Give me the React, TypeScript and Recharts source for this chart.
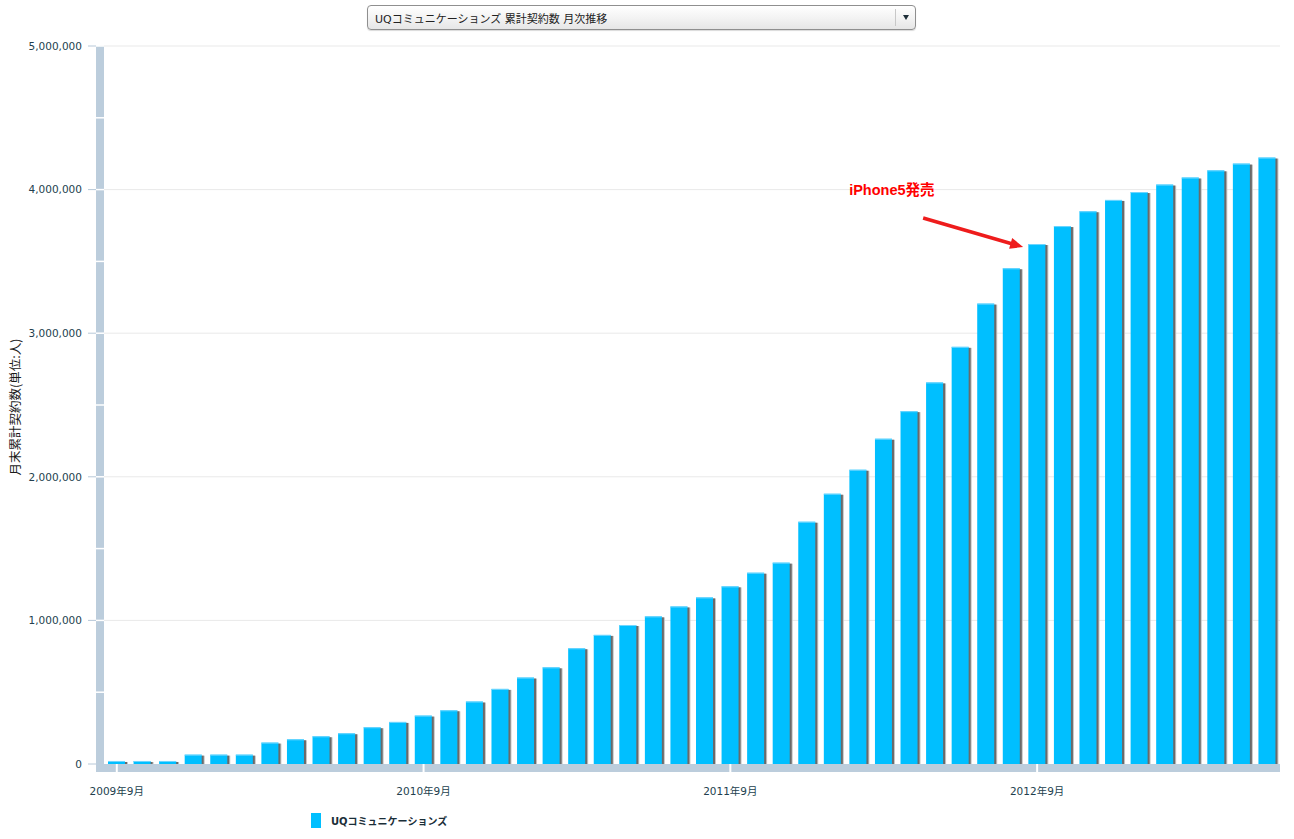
import React from 'react';
import { BarChart, Bar, XAxis, YAxis, CartesianGrid, ReferenceDot } from 'recharts';

const TITLE = 'UQコミュニケーションズ 累計契約数 月次推移';
const SERIES_NAME = 'UQコミュニケーションズ';
const Y_TITLE = '月末累計契約数(単位:人)';
const ANNOTATION_TEXT = 'iPhone5発売';
const ANNOTATION_MONTH = '2012年9月';

const months = [
  '2009年9月', '2009年10月', '2009年11月', '2009年12月', '2010年1月', '2010年2月',
  '2010年3月', '2010年4月', '2010年5月', '2010年6月', '2010年7月', '2010年8月',
  '2010年9月', '2010年10月', '2010年11月', '2010年12月', '2011年1月', '2011年2月',
  '2011年3月', '2011年4月', '2011年5月', '2011年6月', '2011年7月', '2011年8月',
  '2011年9月', '2011年10月', '2011年11月', '2011年12月', '2012年1月', '2012年2月',
  '2012年3月', '2012年4月', '2012年5月', '2012年6月', '2012年7月', '2012年8月',
  '2012年9月', '2012年10月', '2012年11月', '2012年12月', '2013年1月', '2013年2月',
  '2013年3月', '2013年4月', '2013年5月', '2013年6月',
];

const subscribers = [
  21000, 21000, 21000, 65000, 65000, 65000,
  149000, 172000, 193000, 214000, 256000, 293000,
  337000, 374000, 435000, 523000, 602000, 673000,
  806000, 899000, 968000, 1028000, 1097000, 1160000,
  1237000, 1332000, 1402000, 1687000, 1882000, 2049000,
  2265000, 2457000, 2657000, 2905000, 3206000, 3452000,
  3621000, 3746000, 3849000, 3928000, 3983000, 4035000,
  4084000, 4134000, 4181000, 4223000,
];

const yTicks = [0, 500000, 1000000, 1500000, 2000000, 2500000, 3000000, 3500000, 4000000, 4500000, 5000000];
const gridValues = [1000000, 2000000, 3000000, 4000000, 5000000];

const data = months.map((m, i) => ({ month: m, value: subscribers[i] }));

const BAR_COLOR = '#00bfff';
const BAND_COLOR = '#bccddc';
const TEXT_COLOR = '#233f4e';
const FONT = '"DejaVu Sans", "Noto Sans CJK JP", sans-serif';

const Y_TICK_SIZE = 12;
const Y_TICK_MARGIN = 6;
const X_TICK_SIZE = 8;
const X_TICK_MARGIN = 15;

const YTick = (props: any) => {
  const { x, y, payload } = props;
  const axisX = x + Y_TICK_SIZE + Y_TICK_MARGIN;
  const v = payload.value as number;
  const major = v % 1000000 === 0;
  return (
    <g>
      {v === 0 && (
        <rect x={axisX - 4} y={y} width={8} height={8} fill={BAND_COLOR} />
      )}
      {v !== 0 && (
        <line x1={axisX - 4} x2={axisX + 4} y1={y} y2={y} stroke="#ffffff" strokeWidth={1.5} />
      )}
      {major && (
        <>
          <line x1={axisX - 12} x2={axisX - 4} y1={y} y2={y} stroke="#b7c8d8" strokeWidth={1} />
          <text x={x} y={y} dy="0.36em" textAnchor="end" fontSize={10.5} fontFamily={FONT} fill={TEXT_COLOR}>
            {v.toLocaleString('en-US')}
          </text>
        </>
      )}
    </g>
  );
};

const XTick = (props: any) => {
  const { x, y, payload } = props;
  const axisY = y - X_TICK_SIZE - X_TICK_MARGIN;
  return (
    <g>
      <line x1={x} x2={x} y1={axisY - 4} y2={axisY + 4} stroke="#ffffff" strokeWidth={2} />
      <text x={x} y={y} dy="0.36em" textAnchor="middle" fontSize={10.5} fontFamily={FONT} fill={TEXT_COLOR}>
        {payload.value}
      </text>
    </g>
  );
};

const ShadowBar = (props: any) => {
  const { x, y, width, height, fill } = props;
  if (!height || height <= 0) return null;
  return (
    <g>
      <rect x={x + 2} y={y + 1} width={width + 1} height={height - 1} fill="#c4c4c4" />
      <rect x={x + 1} y={y + 1} width={width + 1} height={height - 1} fill="#6a6a6a" />
      <rect x={x} y={y} width={width} height={height} fill={fill} />
      <rect x={x} y={y} width={width} height={1} fill="#6fd6ff" />
    </g>
  );
};

const Annotation = (props: any) => {
  const { cx, cy } = props;
  if (cx == null || cy == null) return null;
  const tipX = cx - 14;
  const tipY = cy + 3;
  const sx = cx - 114;
  const sy = cy - 26;
  const dx = tipX - sx;
  const dy = tipY - sy;
  const len = Math.sqrt(dx * dx + dy * dy);
  const ux = dx / len;
  const uy = dy / len;
  const bx = tipX - ux * 13;
  const by = tipY - uy * 13;
  const nx = -uy;
  const ny = ux;
  const hw = 5.5;
  return (
    <g>
      <line x1={sx} y1={sy} x2={bx + ux * 2} y2={by + uy * 2} stroke="#ee1c1c" strokeWidth={3.5} />
      <polygon
        points={`${tipX},${tipY} ${bx + nx * hw},${by + ny * hw} ${bx - nx * hw},${by - ny * hw}`}
        fill="#ee1c1c"
      />
      <text
        x={cx - 188}
        y={cy - 49}
        fontSize={14.5}
        fontWeight="bold"
        fontFamily='"Liberation Sans", "Noto Sans CJK JP", sans-serif'
        fill="#ff0000"
      >
        {ANNOTATION_TEXT}
      </text>
    </g>
  );
};

const YTitle = (props: any) => {
  const vb = props.viewBox || {};
  const x = (vb.x ?? 0) + 14;
  const y = (vb.y ?? 0) + (vb.height ?? 0) / 2;
  return (
    <text
      x={x}
      y={y}
      transform={`rotate(-90, ${x}, ${y})`}
      textAnchor="middle"
      dominantBaseline="central"
      fontSize={12.5}
      fontFamily='"Noto Sans CJK JP", sans-serif'
      fill="#1a1a1a"
    >
      {Y_TITLE}
    </text>
  );
};

export default function App() {
  return (
    <div
      style={{
        position: 'absolute',
        left: 0,
        top: 0,
        width: 1294,
        height: 839,
        background: '#ffffff',
        overflow: 'hidden',
      }}
    >
      <div
        style={{
          position: 'absolute',
          left: 367,
          top: 5,
          width: 547,
          height: 23,
          border: '1px solid #8f8f8f',
          borderRadius: 4,
          background: 'linear-gradient(#ffffff, #f1f1f1 60%, #e6e6e6)',
          boxShadow: '0 1px 1px rgba(0,0,0,0.15)',
          fontFamily: '"DejaVu Sans", "Noto Sans CJK JP", sans-serif',
          fontSize: 11,
          color: '#222',
          zIndex: 2,
        }}
      >
        <div style={{ position: 'absolute', left: 7, top: 4, whiteSpace: 'nowrap' }}>{TITLE}</div>
        <div
          style={{ position: 'absolute', left: 527, top: 3, width: 1, height: 17, background: '#c8c8c8' }}
        />
        <div
          style={{
            position: 'absolute',
            left: 535,
            top: 9,
            width: 0,
            height: 0,
            borderLeft: '3.5px solid transparent',
            borderRight: '3.5px solid transparent',
            borderTop: '5px solid #1e2e38',
          }}
        />
      </div>

      <div style={{ position: 'absolute', left: 0, top: 0 }}>
        <BarChart
          width={1294}
          height={839}
          data={data}
          margin={{ top: 46, right: 14, left: 0, bottom: 0 }}
          barCategoryGap={0}
        >
          <CartesianGrid
            horizontal
            vertical={false}
            horizontalValues={gridValues}
            stroke="#e9e9e9"
            strokeWidth={1}
          />
          <XAxis
            dataKey="month"
            type="category"
            height={71}
            padding={{ left: 4, right: 0 }}
            interval={11}
            axisLine={{ stroke: BAND_COLOR, strokeWidth: 8 }}
            tickLine={false}
            tickSize={X_TICK_SIZE}
            tickMargin={X_TICK_MARGIN}
            tick={<XTick />}
          />
          <YAxis
            type="number"
            width={100}
            domain={[0, 5000000]}
            ticks={yTicks}
            interval={0}
            padding={{ top: 0, bottom: 4 }}
            axisLine={{ stroke: BAND_COLOR, strokeWidth: 8 }}
            tickLine={false}
            tickSize={Y_TICK_SIZE}
            tickMargin={Y_TICK_MARGIN}
            tick={<YTick />}
            label={<YTitle />}
          />
          <Bar
            dataKey="value"
            name={SERIES_NAME}
            fill={BAR_COLOR}
            barSize={17}
            shape={<ShadowBar />}
            isAnimationActive={false}
          />
          <ReferenceDot
            x={ANNOTATION_MONTH}
            y={subscribers[months.indexOf(ANNOTATION_MONTH)]}
            r={0}
            ifOverflow="visible"
            shape={<Annotation />}
          />
        </BarChart>
      </div>

      <div
        style={{
          position: 'absolute',
          left: 311,
          top: 813,
          display: 'flex',
          alignItems: 'center',
          fontFamily: '"DejaVu Sans", "Noto Sans CJK JP", sans-serif',
          fontSize: 10,
          fontWeight: 'bold',
          color: '#1a2e38',
        }}
      >
        <div style={{ width: 10, height: 15, background: BAR_COLOR }} />
        <div style={{ marginLeft: 10, whiteSpace: 'nowrap' }}>{SERIES_NAME}</div>
      </div>
    </div>
  );
}
